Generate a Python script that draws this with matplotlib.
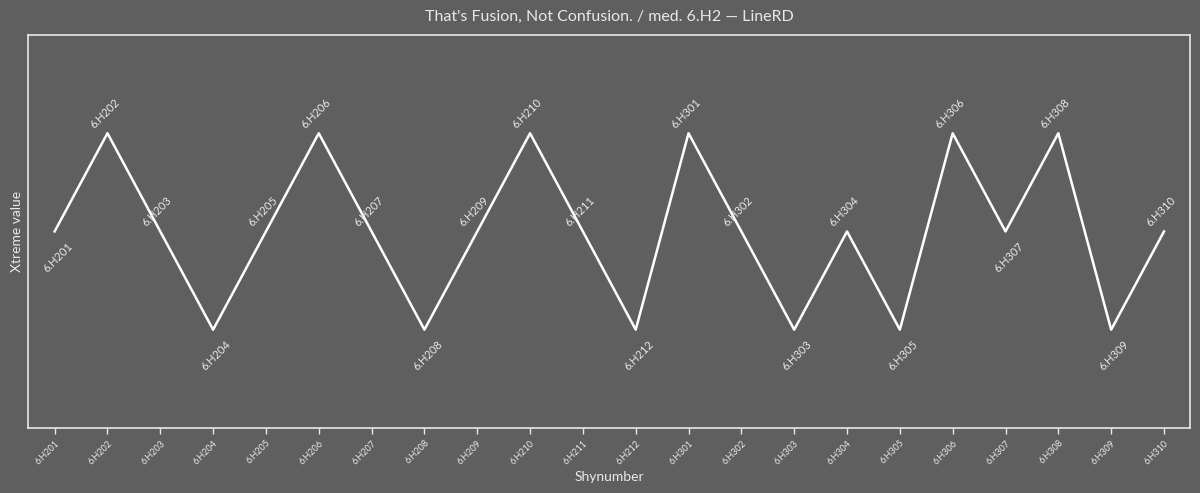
import matplotlib.pyplot as plt

# data
labels = ['6.H201', '6.H202', '6.H203', '6.H204', '6.H205', '6.H206', '6.H207',
          '6.H208', '6.H209', '6.H210', '6.H211', '6.H212', '6.H301', '6.H302',
          '6.H303', '6.H304', '6.H305', '6.H306', '6.H307', '6.H308', '6.H309',
          '6.H310']
values = [0, 1, 0, -1, 0, 1, 0, -1, 0, 1, 0, -1, 1, 0, -1, 0, -1, 1, 0, 1, -1, 0]

bg = '#5f5f5f'
fg = '#e8e8e8'
plt.rcParams['font.family'] = ['Lato', 'DejaVu Sans']

fig, ax = plt.subplots(figsize=(12, 4.93), dpi=100)
fig.patch.set_facecolor(bg)
ax.set_facecolor(bg)
fig.subplots_adjust(left=0.0235, right=0.992, top=0.929, bottom=0.132)

x = list(range(len(values)))
ax.plot(x, values, color='white', linewidth=1.8)

#labels: below at local minima, above otherwise
for i, v in enumerate(values):
    left = values[i - 1] if i > 0 else v + 1
    right = values[i + 1] if i < len(values) - 1 else v + 1
    if v <= left and v <= right:
        off = (3, -26)
    else:
        off = (-3, 20)
    ax.annotate(labels[i], (i, v), xytext=off, textcoords='offset pixels',
                ha='center', va='center', rotation=45, fontsize=8, color=fg)

ax.set_xlim(-0.5, len(values) - 0.5)
ax.set_ylim(-2, 2)
ax.set_xticks(x)
ax.set_xticklabels(labels, rotation=45, ha='right', rotation_mode='anchor', fontsize=6.5, color=fg)
ax.set_yticks([])
ax.tick_params(axis='x', colors=fg, length=4, width=1)
for s in ax.spines.values():
    s.set_color(fg)
    s.set_linewidth(1.2)

ax.set_xlabel('Shynumber', color=fg, fontsize=10)
ax.set_ylabel('Xtreme value', color=fg, fontsize=10)
ax.set_title("That's Fusion, Not Confusion. / med. 6.H2 \u2014 LineRD", color=fg, fontsize=11.5, pad=10)

plt.savefig('out.png', facecolor=bg)
